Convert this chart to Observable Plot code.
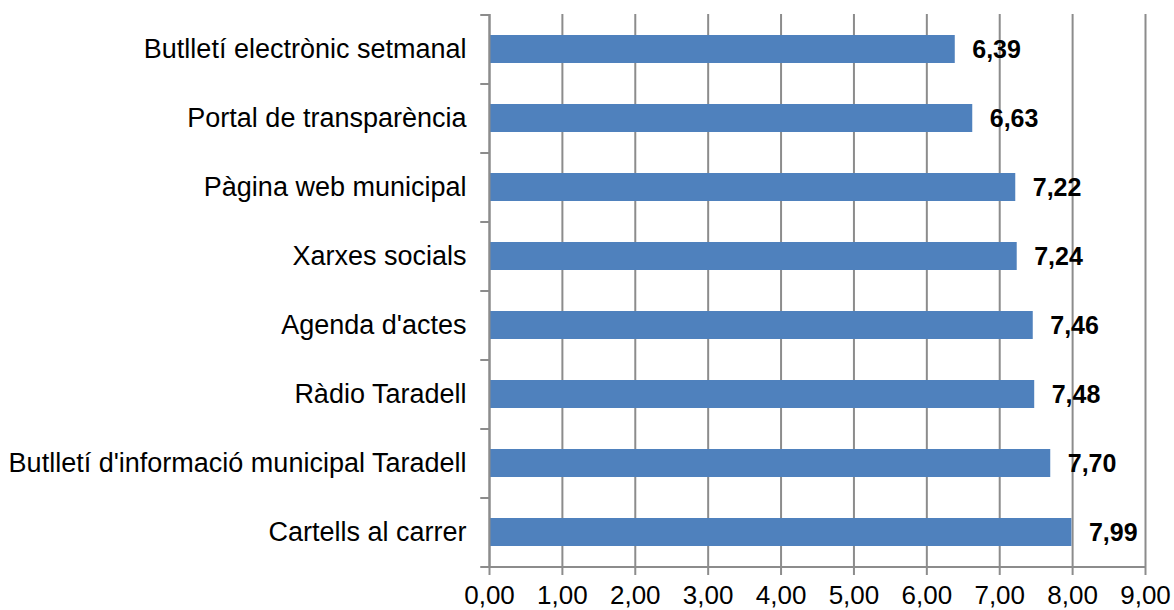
<!DOCTYPE html>
<html>
<head>
<meta charset="utf-8">
<script src="https://cdn.jsdelivr.net/npm/d3@7"></script>
<script src="https://cdn.jsdelivr.net/npm/@observablehq/plot@0.6"></script>
<style>
  html, body { margin: 0; padding: 0; background: #fff; }
  #chart svg { display: block; }
</style>
</head>
<body>
<div id="chart"></div>
<script>
const categories = [
  "Butlletí electrònic setmanal",
  "Portal de transparència",
  "Pàgina web municipal",
  "Xarxes socials",
  "Agenda d'actes",
  "Ràdio Taradell",
  "Butlletí d'informació municipal Taradell",
  "Cartells al carrer"
];
const values = [6.39, 6.63, 7.22, 7.24, 7.46, 7.48, 7.70, 7.99];
const xTicks = [0, 1, 2, 3, 4, 5, 6, 7, 8, 9];

const data = categories.map((c, i) => ({category: c, value: values[i]}));
const fmt = d => d.toFixed(2).replace(".", ",");
const gray = "#8c8c8c";

const chart = Plot.plot({
  width: 1174,
  height: 610,
  marginLeft: 489,
  marginRight: 29,
  marginTop: 14,
  marginBottom: 44,
  style: {fontFamily: "'Liberation Sans', Arial, sans-serif", background: "#fff"},
  x: {domain: [0, 9], ticks: xTicks, label: null},
  y: {domain: categories, paddingInner: 0.6, paddingOuter: 0.3, label: null},
  marks: [
    Plot.gridX(xTicks, {stroke: gray, strokeOpacity: 1, strokeWidth: 2}),
    Plot.barX(data, {x: "value", y: "category", fill: "#4F81BD"}),
    Plot.text(data, {
      x: "value", y: "category", text: d => fmt(d.value),
      textAnchor: "start", dx: 17, dy: 0, fontSize: 25, fontWeight: "bold", fill: "#000"
    }),
    Plot.axisX(xTicks, {
      tickFormat: fmt, tickSize: 9, tickPadding: 10, fontSize: 26, stroke: gray, strokeWidth: 2,
      fill: "#000", label: null
    }),
    Plot.ruleY([0], {x1: 0, x2: 9, y: () => categories[categories.length - 1], dy: 34.5, stroke: gray, strokeWidth: 2}),
    Plot.ruleX([0], {stroke: gray, strokeWidth: 2}),
    Plot.axisY({tickSize: 0, tickPadding: 23, fontSize: 27, fill: "#000", label: null}),
    Plot.ruleY(categories, {y: d => d, x1: -0.12, x2: 0, dy: -34.5, stroke: gray, strokeWidth: 2}),
    Plot.ruleY([categories[categories.length - 1]], {y: d => d, x1: -0.12, x2: 0, dy: 34.5, stroke: gray, strokeWidth: 2})
  ]
});
document.getElementById("chart").appendChild(chart);
</script>
</body>
</html>
